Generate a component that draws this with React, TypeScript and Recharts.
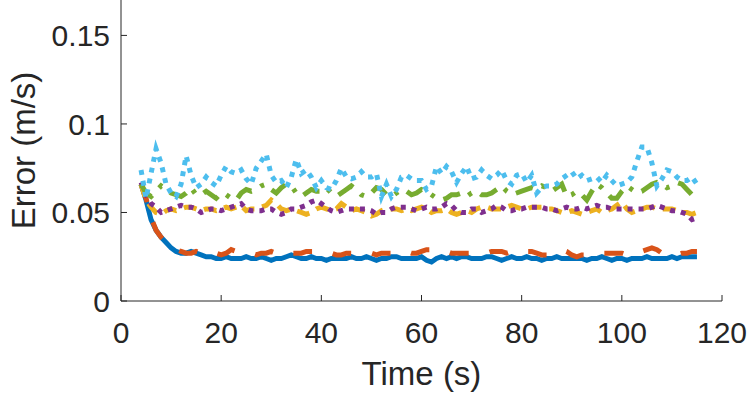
import React from "react";
import { LineChart, Line, XAxis, YAxis } from "recharts";

// sample times (s)
const time = [
  4, 5, 6, 7, 8, 9, 10, 11, 12, 13,
  14, 15, 16, 17, 18, 19, 20, 21, 22, 23,
  24, 25, 26, 27, 28, 29, 30, 31, 32, 33,
  34, 35, 36, 37, 38, 39, 40, 41, 42, 43,
  44, 45, 46, 47, 48, 49, 50, 51, 52, 53,
  54, 55, 56, 57, 58, 59, 60, 61, 62, 63,
  64, 65, 66, 67, 68, 69, 70, 71, 72, 73,
  74, 75, 76, 77, 78, 79, 80, 81, 82, 83,
  84, 85, 86, 87, 88, 89, 90, 91, 92, 93,
  94, 95, 96, 97, 98, 99, 100, 101, 102, 103,
  104, 105, 106, 107, 108, 109, 110, 111, 112, 113,
  114, 115,
];

const errBlue = [
  0.066, 0.057, 0.046, 0.040, 0.036, 0.033, 0.030, 0.028, 0.027, 0.027,
  0.028, 0.027, 0.026, 0.025, 0.025, 0.024, 0.024, 0.025, 0.024, 0.024,
  0.024, 0.025, 0.024, 0.024, 0.025, 0.024, 0.023, 0.024, 0.024, 0.025,
  0.026, 0.025, 0.024, 0.024, 0.025, 0.024, 0.024, 0.023, 0.024, 0.024,
  0.024, 0.024, 0.025, 0.024, 0.024, 0.025, 0.024, 0.023, 0.024, 0.024,
  0.025, 0.025, 0.024, 0.024, 0.024, 0.024, 0.025, 0.023, 0.022, 0.024,
  0.025, 0.024, 0.025, 0.024, 0.025, 0.025, 0.024, 0.024, 0.024, 0.025,
  0.025, 0.024, 0.023, 0.024, 0.025, 0.024, 0.024, 0.025, 0.024, 0.024,
  0.023, 0.024, 0.024, 0.025, 0.024, 0.024, 0.024, 0.024, 0.024, 0.023,
  0.024, 0.024, 0.025, 0.024, 0.023, 0.024, 0.024, 0.023, 0.024, 0.024,
  0.024, 0.025, 0.024, 0.024, 0.024, 0.024, 0.025, 0.024, 0.025, 0.025,
  0.025, 0.025,
];

const errOrange = [
  0.066, 0.058, 0.047, 0.040, 0.036, 0.033, 0.031, 0.029, 0.028, 0.027,
  0.027, 0.028, 0.027, 0.027, 0.028, 0.027, 0.026, 0.027, 0.029, 0.028,
  0.027, 0.027, 0.027, 0.026, 0.027, 0.027, 0.028, 0.027, 0.027, 0.026,
  0.027, 0.027, 0.027, 0.028, 0.028, 0.028, 0.028, 0.027, 0.027, 0.026,
  0.026, 0.027, 0.027, 0.027, 0.027, 0.027, 0.027, 0.026, 0.027, 0.027,
  0.027, 0.028, 0.028, 0.028, 0.027, 0.027, 0.028, 0.029, 0.029, 0.029,
  0.028, 0.028, 0.027, 0.027, 0.027, 0.027, 0.027, 0.027, 0.027, 0.027,
  0.028, 0.028, 0.028, 0.027, 0.028, 0.029, 0.029, 0.028, 0.028, 0.027,
  0.026, 0.026, 0.027, 0.028, 0.029, 0.028, 0.026, 0.025, 0.026, 0.026,
  0.027, 0.027, 0.027, 0.027, 0.027, 0.027, 0.027, 0.026, 0.026, 0.027,
  0.028, 0.029, 0.030, 0.029, 0.027, 0.027, 0.027, 0.026, 0.027, 0.027,
  0.028, 0.028,
];

const errYellow = [
  0.066, 0.057, 0.053, 0.050, 0.049, 0.051, 0.052, 0.051, 0.052, 0.053,
  0.053, 0.052, 0.051, 0.052, 0.052, 0.051, 0.052, 0.053, 0.052, 0.053,
  0.054, 0.051, 0.052, 0.052, 0.053, 0.054, 0.057, 0.055, 0.052, 0.051,
  0.052, 0.051, 0.050, 0.049, 0.050, 0.052, 0.053, 0.052, 0.051, 0.052,
  0.055, 0.053, 0.051, 0.052, 0.051, 0.050, 0.048, 0.049, 0.051, 0.052,
  0.052, 0.052, 0.051, 0.052, 0.051, 0.052, 0.053, 0.052, 0.050, 0.051,
  0.051, 0.052, 0.050, 0.049, 0.050, 0.051, 0.050, 0.052, 0.053, 0.053,
  0.052, 0.052, 0.052, 0.053, 0.054, 0.053, 0.052, 0.052, 0.053, 0.053,
  0.053, 0.052, 0.052, 0.051, 0.050, 0.050, 0.051, 0.050, 0.049, 0.050,
  0.051, 0.052, 0.050, 0.051, 0.052, 0.054, 0.056, 0.052, 0.050, 0.051,
  0.052, 0.053, 0.053, 0.052, 0.052, 0.052, 0.052, 0.051, 0.050, 0.050,
  0.049, 0.050,
];

const errPurple = [
  0.067, 0.060, 0.055, 0.053, 0.050, 0.051, 0.052, 0.053, 0.054, 0.053,
  0.053, 0.052, 0.050, 0.051, 0.052, 0.052, 0.051, 0.052, 0.053, 0.054,
  0.055, 0.052, 0.051, 0.051, 0.051, 0.052, 0.052, 0.050, 0.049, 0.050,
  0.052, 0.052, 0.053, 0.054, 0.056, 0.057, 0.055, 0.053, 0.051, 0.050,
  0.051, 0.052, 0.052, 0.052, 0.052, 0.052, 0.051, 0.049, 0.050, 0.050,
  0.052, 0.053, 0.053, 0.053, 0.052, 0.051, 0.052, 0.053, 0.052, 0.052,
  0.053, 0.055, 0.054, 0.051, 0.050, 0.050, 0.052, 0.052, 0.050, 0.051,
  0.052, 0.054, 0.053, 0.051, 0.051, 0.052, 0.052, 0.053, 0.053, 0.053,
  0.053, 0.052, 0.052, 0.051, 0.052, 0.053, 0.052, 0.052, 0.053, 0.052,
  0.053, 0.054, 0.053, 0.053, 0.052, 0.052, 0.052, 0.052, 0.052, 0.052,
  0.052, 0.052, 0.053, 0.054, 0.053, 0.052, 0.051, 0.051, 0.050, 0.049,
  0.046, 0.047,
];

const errGreen = [
  0.066, 0.061, 0.059, 0.062, 0.065, 0.063, 0.061, 0.060, 0.059, 0.061,
  0.064, 0.060, 0.060, 0.062, 0.060, 0.058, 0.061, 0.060, 0.058, 0.057,
  0.061, 0.063, 0.062, 0.063, 0.065, 0.066, 0.063, 0.061, 0.064, 0.066,
  0.065, 0.061, 0.059, 0.061, 0.063, 0.062, 0.062, 0.064, 0.061, 0.059,
  0.061, 0.063, 0.065, 0.063, 0.060, 0.059, 0.061, 0.064, 0.063, 0.060,
  0.059, 0.061, 0.063, 0.062, 0.060, 0.061, 0.063, 0.062, 0.060, 0.058,
  0.057, 0.058, 0.060, 0.060, 0.061, 0.059, 0.061, 0.062, 0.060, 0.060,
  0.061, 0.063, 0.065, 0.062, 0.060, 0.061, 0.062, 0.063, 0.064, 0.063,
  0.065, 0.064, 0.062, 0.064, 0.066, 0.059, 0.060, 0.062, 0.060, 0.057,
  0.062, 0.066, 0.064, 0.061, 0.058, 0.058, 0.062, 0.065, 0.063, 0.061,
  0.062, 0.064, 0.066, 0.067, 0.066, 0.064, 0.065, 0.067, 0.066, 0.063,
  0.060, 0.061,
];

const errCyan = [
  0.074, 0.058, 0.072, 0.086, 0.078, 0.066, 0.061, 0.059, 0.066, 0.082,
  0.071, 0.064, 0.066, 0.070, 0.067, 0.065, 0.071, 0.076, 0.073, 0.072,
  0.074, 0.069, 0.066, 0.075, 0.079, 0.083, 0.071, 0.067, 0.068, 0.064,
  0.070, 0.080, 0.072, 0.074, 0.070, 0.064, 0.068, 0.064, 0.063, 0.068,
  0.075, 0.070, 0.069, 0.070, 0.073, 0.070, 0.070, 0.072, 0.059, 0.066,
  0.059, 0.063, 0.070, 0.071, 0.069, 0.068, 0.068, 0.063, 0.065, 0.076,
  0.072, 0.076, 0.073, 0.067, 0.072, 0.076, 0.069, 0.070, 0.074, 0.071,
  0.069, 0.071, 0.074, 0.068, 0.066, 0.071, 0.072, 0.067, 0.071, 0.061,
  0.064, 0.065, 0.065, 0.066, 0.069, 0.071, 0.073, 0.069, 0.071, 0.068,
  0.069, 0.070, 0.067, 0.071, 0.068, 0.065, 0.066, 0.067, 0.070, 0.079,
  0.087, 0.087, 0.078, 0.065, 0.069, 0.074, 0.073, 0.070, 0.068, 0.068,
  0.070, 0.066,
];

const xTicks = [0, 20, 40, 60, 80, 100, 120];
const yTicks = [0, 0.05, 0.1, 0.15];

const data = time.map((t, i) => ({
  t,
  blue: errBlue[i],
  orange: errOrange[i],
  yellow: errYellow[i],
  purple: errPurple[i],
  green: errGreen[i],
  cyan: errCyan[i],
}));

const FONT = '"Liberation Sans", Arial, Helvetica, sans-serif';
const INK = "#262626";

const YLabel = (props: any) => {
  const vb = props.viewBox || { x: 0, y: 0, height: 301 };
  const cx = vb.x + 35;
  const cy = vb.y + vb.height / 2;
  return (
    <text
      x={cx}
      y={cy}
      transform={`rotate(-90 ${cx} ${cy})`}
      textAnchor="middle"
      fill={INK}
      fontSize={33}
      fontFamily={FONT}
    >
      Error (m/s)
    </text>
  );
};

export default function App() {
  return (
    <div style={{ position: "absolute", left: 0, top: 0, width: 747, height: 399, background: "#fff" }}>
      <LineChart
        width={747}
        height={399}
        data={data}
        margin={{ top: 0, right: 25, bottom: 0, left: 0 }}
      >
        <XAxis
          dataKey="t"
          type="number"
          domain={[0, 120]}
          ticks={xTicks}
          height={98}
          stroke={INK}
          tickSize={-6}
          tickMargin={27}
          tick={{ fill: INK, fontSize: 30, fontFamily: FONT }}
          label={{ value: "Time (s)", position: "insideBottom", offset: 14, fill: INK, fontSize: 33, fontFamily: FONT }}
        />
        <YAxis
          type="number"
          domain={[0, 0.17]}
          ticks={yTicks}
          width={121}
          stroke={INK}
          tickSize={-6}
          tickMargin={17}
          tick={{ fill: INK, fontSize: 30, fontFamily: FONT }}
          label={{ content: <YLabel /> }}
        />
        <Line dataKey="blue" stroke="#0072BD" strokeWidth={5} dot={false} isAnimationActive={false} />
        <Line dataKey="orange" stroke="#D95319" strokeWidth={5} strokeDasharray="19 21" dot={false} isAnimationActive={false} />
        <Line dataKey="yellow" stroke="#EDB120" strokeWidth={5} strokeDasharray="13 8" dot={false} isAnimationActive={false} />
        <Line dataKey="purple" stroke="#7E2F8E" strokeWidth={5} strokeDasharray="5 6" dot={false} isAnimationActive={false} />
        <Line dataKey="green" stroke="#77AC30" strokeWidth={5} strokeDasharray="18 10 4 10" dot={false} isAnimationActive={false} />
        <Line dataKey="cyan" stroke="#4DBEEE" strokeWidth={5} strokeDasharray="5 6" dot={false} isAnimationActive={false} />
      </LineChart>
    </div>
  );
}
